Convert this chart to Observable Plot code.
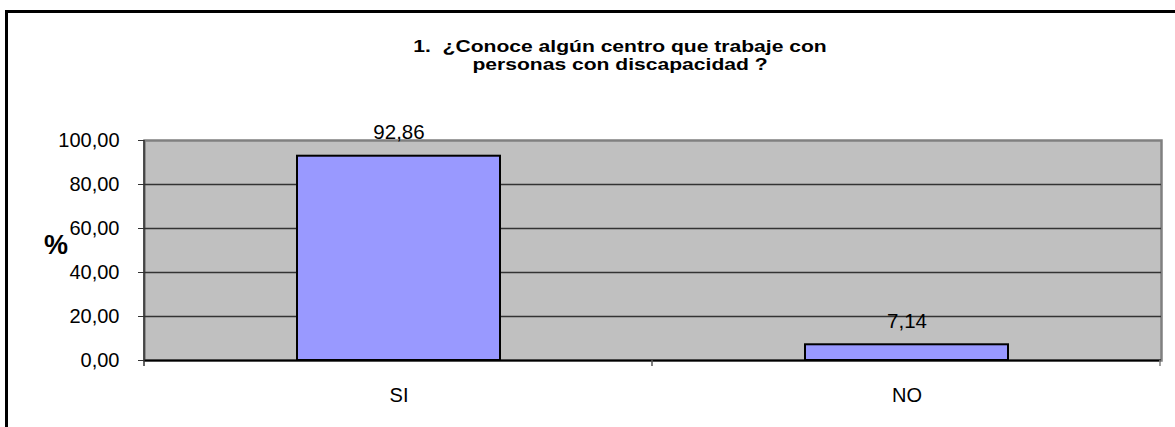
<!DOCTYPE html>
<html>
<head>
<meta charset="utf-8">
<script src="https://cdn.jsdelivr.net/npm/d3@7"></script>
<script src="https://cdn.jsdelivr.net/npm/@observablehq/plot@0.6"></script>
<style>
  html, body { margin: 0; padding: 0; background: #fff; }
  #wrap { position: relative; width: 1175px; height: 427px; overflow: hidden; font-family: "Liberation Sans", Arial, sans-serif; }
  #frame { position: absolute; left: 5px; top: 10px; width: 1300px; height: 500px; border: 3px solid #000; box-sizing: border-box; }
  #title { position: absolute; left: 0; top: 38px; width: 1240px; text-align: center; font-weight: bold; font-size: 17px; line-height: 18px; color: #000; transform: scaleX(1.24); transform-origin: 620px 0; }
  #ylab { position: absolute; left: 44px; top: 230px; font-weight: bold; font-size: 27px; color: #000; }
  #chart { position: absolute; left: 0; top: 0; }
</style>
</head>
<body>
<div id="wrap">
  <div id="frame"></div>
  <div id="chart"></div>
  <div id="title">1.&nbsp; ¿Conoce algún centro que trabaje con<br>personas con discapacidad ?</div>
  <div id="ylab">%</div>
</div>
<script>
const categories = ["SI", "NO"];
const values = [92.86, 7.14];
const yTicks = [0, 20, 40, 60, 80, 100];

const data = categories.map((c, i) => ({category: c, value: values[i]}));
const fmt = d => d.toFixed(2).replace(".", ",");

const plot = Plot.plot({
  width: 1175,
  height: 427,
  marginLeft: 144,
  marginRight: 14,
  marginTop: 140,
  marginBottom: 67,
  style: {fontFamily: "'Liberation Sans', Arial, sans-serif", fontSize: "20px", background: "transparent", color: "#000"},
  x: {type: "band", domain: categories, paddingInner: 0.6, paddingOuter: 0.3, label: null},
  y: {domain: [0, 100], ticks: yTicks, label: null},
  marks: [
    Plot.frame({fill: "#C0C0C0", stroke: "#808080", strokeWidth: 2.5}),
    Plot.ruleY(yTicks.slice(1, -1), {stroke: "#333", strokeWidth: 1.3}),
    Plot.barY(data, {x: "category", y: "value", fill: "#9999FF", stroke: "#000", strokeWidth: 2}),
    Plot.ruleY([0], {stroke: "#000", strokeWidth: 2}),
    Plot.text(data, {x: "category", y: "value", text: d => fmt(d.value), lineAnchor: "bottom", dy: -17, fontSize: 20.5, fill: "#000"}),
    Plot.axisY({ticks: yTicks, tickFormat: fmt, tickSize: 6, tickPadding: 19, stroke: "#333", fontSize: 20}),
    Plot.axisX({tickSize: 0, tickPadding: 27, fontSize: 20})
  ]
});

document.getElementById("chart").appendChild(plot);

// Excel-style category boundary ticks and left axis line, from the scales
const xs = plot.scale("x");
const ys = plot.scale("y");
const svg = d3.select(plot);
const r0 = xs.range[0];
const step = xs.step;
const y0 = ys.apply(0), y1 = ys.apply(100);
const g = svg.append("g");
g.append("line").attr("x1", r0).attr("x2", r0).attr("y1", y1).attr("y2", y0 + 6)
  .attr("stroke", "#333").attr("stroke-width", 1.5);
for (let i = 1; i <= categories.length; i++) {
  const xb = r0 + i * step;
  g.append("line").attr("x1", xb).attr("x2", xb).attr("y1", y0).attr("y2", y0 + 6)
    .attr("stroke", i === categories.length ? "#808080" : "#555").attr("stroke-width", 1.5);
}
</script>
</body>
</html>
